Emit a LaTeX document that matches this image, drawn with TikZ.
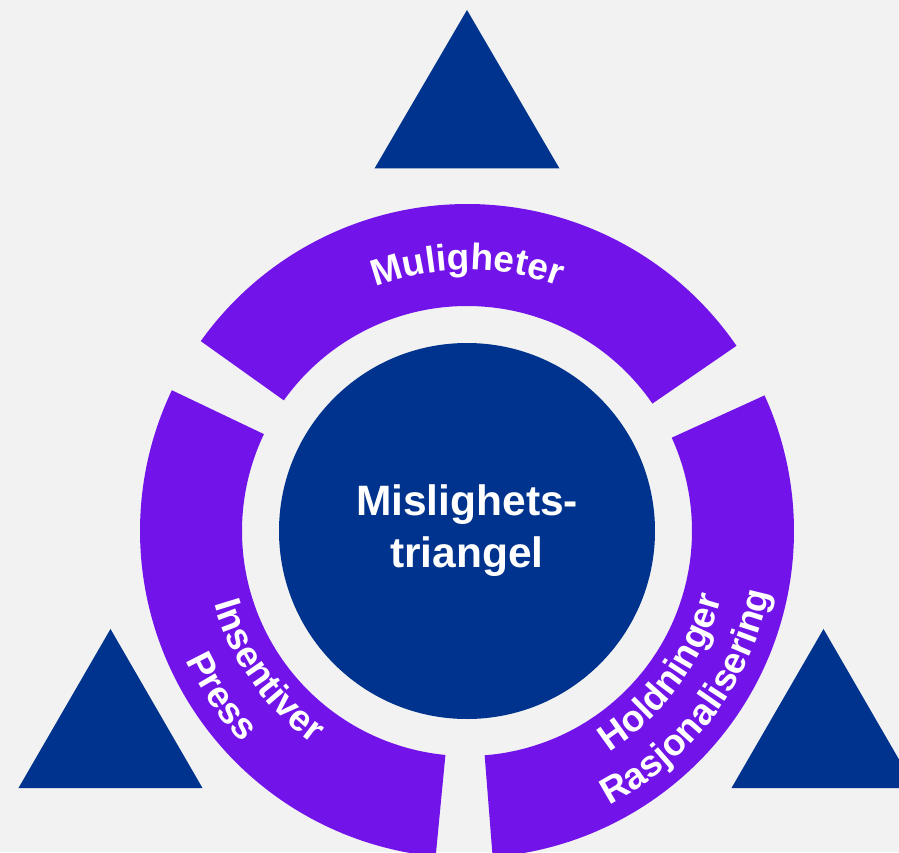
\documentclass[tikz,border=0pt]{standalone}
\usepackage{fontspec}
\setmainfont{Liberation Sans}
\usepackage{tikz}
\usetikzlibrary{decorations.text}

\definecolor{kblue}{HTML}{00338D}
\definecolor{kpurple}{HTML}{7213EA}
\definecolor{kgrey}{HTML}{F2F2F2}

\newcommand{\ringfont}{\fontsize{37}{46}\selectfont\bfseries}

\begin{document}
\begin{tikzpicture}[x=1pt,y=1pt,
    seg/.style={fill=kpurple},
    tri/.style={fill=kblue},
    core/.style={circle,fill=kblue,minimum size=376pt,inner sep=0pt,text=white,align=center,
        font=\fontsize{42.5}{52}\selectfont\bfseries},
    lbl/.style={decorate,decoration={text along path,text align=center,text color=white,text={#1}}}]

    % Background
    \clip (-467,-321) rectangle (432,531);
    \fill[kgrey] (-467,-321) rectangle (432,531);

    % Triangles
    \fill[tri] (0,521) -- ++(-92.5,-158.5) -- ++(185,0) -- cycle;
    \fill[tri] (-356.5,-98) -- ++(-92,-159) -- ++(184,0) -- cycle;
    \fill[tri] (356.5,-98) -- ++(-92,-159) -- ++(184,0) -- cycle;

    % Ring segments
    \fill[seg] (34.5:327pt) arc[start angle=34.5,end angle=144.5,radius=327pt]
        -- (144.5:225pt) arc[start angle=144.5,end angle=34.5,radius=225pt] -- cycle;
    \fill[seg] (154.5:327pt) arc[start angle=154.5,end angle=264.5,radius=327pt]
        -- (264.5:225pt) arc[start angle=264.5,end angle=154.5,radius=225pt] -- cycle;
    \fill[seg] (274.5:327pt) arc[start angle=274.5,end angle=384.5,radius=327pt]
        -- (384.5:225pt) arc[start angle=384.5,end angle=274.5,radius=225pt] -- cycle;

    % Core
    \node[core] (core) at (0,0) {Mislighets-\\triangel};

    % Ring labels
    \path[lbl={|\ringfont|Muligheter}] (150:261pt) arc[start angle=150,end angle=30,radius=261pt];
    \path[lbl={|\ringfont|Insentiver}] (175:263pt) arc[start angle=175,end angle=255,radius=263pt];
    \path[lbl={|\ringfont|Press}] (174:309pt) arc[start angle=174,end angle=254,radius=309pt];
    \path[lbl={|\ringfont|Holdninger}] (284:263pt) arc[start angle=284,end angle=364,radius=263pt];
    \path[lbl={|\ringfont|Rasjonalisering}] (283:309pt) arc[start angle=283,end angle=363,radius=309pt];
\end{tikzpicture}
\end{document}
